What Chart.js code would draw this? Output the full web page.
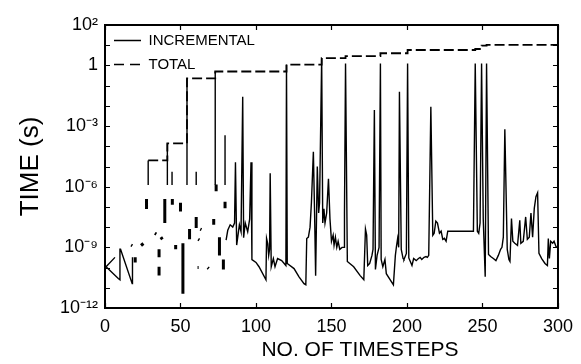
<!DOCTYPE html>
<html>
<head>
<meta charset="utf-8">
<title>Time per timestep</title>
<script src="https://cdn.jsdelivr.net/npm/chart.js@4.4.0/dist/chart.umd.min.js"></script>
<style>
  html, body { margin: 0; padding: 0; background: #fff; }
  #chart { display: block; }
</style>
</head>
<body>
<canvas id="chart" width="581" height="364"></canvas>
<script>
// incremental time per step (null = break in the trace)
const incX = [
  6.6, 0.7, 8.8, 9.9, 9.9, 10.3, 18, 18.2, 18.2,
  28.6, 28.6, 28.6, 41.3, 41.3, 41.3, 44.4, 44.4, 44.4, 54.3, 54.3, 54.3,
  60.4, 60.4, 60.4, 73, 73, 73, 79.5, 79.5, 79.5,
  80.2, 81.3, 82.9, 84.6, 85.8, 86.4, 87.2, 89, 90.1, 91.2, 91.8, 92.9, 94.5, 95.8, 96.7, 97.3,
  100, 102, 106.6, 107, 107.8, 108.4, 109, 109.4, 110.1, 111.5, 112.6, 114.3, 117, 119.8,
  120.2, 120.7, 125.2, 128.5, 131.8, 133, 133.6, 134.7, 135.8, 136.7, 138, 138.8, 139.5,
  140.6, 141.5, 142.1, 143.5, 144.2, 145, 145.7, 146.8, 148, 149, 150, 151.1, 151.7, 152.6,
  153.5, 154.4, 155.5, 157, 158.3, 158.6, 159.3, 160.5, 164.7, 169, 171.4, 172.5, 173.3,
  174, 175.3, 176.8, 177.5, 178.4, 179.1, 180.2, 181.5, 182.4, 182.9, 184, 185.4, 186.3,
  191, 192.3, 193, 193.8, 194.5, 195, 196.2, 197.4, 198, 199.6, 200.4, 201.2, 202.2, 203.3,
  204.4, 206.1, 207.6, 208.7, 209.8, 211.3, 212.6, 213.5, 214.4, 215.8, 217.1, 218, 219.1,
  220.2, 221.5, 222.6, 223.7, 224.8, 225.9, 227, 244, 245.2, 246.6, 247.5, 248.4, 249.4,
  250.5, 251.8, 252.7, 254, 255.4, 257.2, 258.9, 260.5, 262, 262.9, 263.8, 264.8, 266.4,
  267.5, 268.2, 269.2, 270.1, 271.4, 273.2, 274.7, 275.4, 277, 278.6, 279.7, 281, 282.1,
  283.2, 284.3, 285.4, 286.5, 287.4, 289.2, 291.4, 293, 293.6, 294.3, 295.2, 296.5, 297.4,
  298.7, 300
];
const incY = [
  3.2e-10, 1.1e-10, 2.9e-11, 2.5e-11, 8e-10, 8e-10, 1.6e-11, 3.2e-10, null,
  1.2e-6, 2e-5, null, 1.2e-6, 1.4e-4, null, 1.2e-6, 5.5e-6, null, 1.2e-6, 0.23, null,
  1.2e-6, 5.5e-6, null, 1.2e-6, 0.5, null, 1.2e-6, 3.5e-4, null,
  2.3e-9, 7e-9, 1.3e-8, 1e-8, 1.6e-8, 1.6e-5, 1.3e-9, 1.3e-8, 6e-9, 0.028, 3e-9, 1.6e-8, 6e-9, 2.5e-8, 1.6e-5, 2.5e-10,
  1.8e-10, 1.1e-10, 2.5e-11, 2.75e-9, 1.5e-9, 4e-10, 8e-10, 4.6e-6, 1.1e-10, 2.8e-10, 1.1e-10, 2.8e-10, 2.2e-10, 1.26e-10,
  1.1, 1.6e-10, 8.9e-11, 3.5e-11, 1.6e-11, 1.4e-11, 2.75e-9, 3.2e-9, 1e-8, 1.6e-7, 5.4e-5, 5e-8, 4e-11,
  1e-5, 5e-8, 1.6e-7, 2.3, 1.6e-8, 8e-8, 1.6e-8, 5e-8, 2.5e-6, 2.5e-8, 2e-9, 4e-9, 1.26e-9, 3.2e-9,
  1e-9, 2e-9, 8e-10, 1e-9, 1e-9, 5e-8, 1.26, 2e-10, 1.1e-10, 4e-11, 2.5e-11, 8e-9, 4e-9,
  1.26e-10, 1.6e-10, 4e-10, 8e-10, 6.3e-3, 8e-11, 4e-10, 1e-9, 1.26, 2.5e-10, 1.1e-10, 2.5e-10, 5e-11,
  1.4e-11, 4e-10, 1.07e-9, 2.75e-9, 1e-9, 0.05, 8e-10, 2.8e-10, 2.5e-10, 5e-10, 1.26, 3e-10, 2e-10, 1.26e-10,
  2.8e-10, 2.2e-10, 2.8e-10, 3.2e-10, 2.5e-10, 3.2e-10, 3.5e-10, 3.2e-10, 4e-10, 9e-3, 4e-9, 5e-9, 2e-8,
  1.6e-8, 5e-9, 6.3e-9, 2.5e-9, 2.8e-9, 2e-9, 6.3e-9, 6.3e-9, 1.26, 6.3e-9, 5e-9, 1.6e-8, 1.26,
  2.5e-8, 3.5e-11, 1.26, 4.5e-10, 3.5e-10, 2.8e-10, 2.2e-10, 4e-10, 8e-10, 1e-9, 3.2e-9, 6.9e-4, 8e-10,
  2.5e-10, 2e-10, 2.7e-8, 2e-9, 1.6e-9, 1.26e-9, 2.2e-8, 1.6e-9, 2e-9, 3.2e-8, 2.5e-9, 3.2e-9, 5e-8,
  3.2e-9, 8.5e-8, 3.2e-7, 5e-7, 5e-10, 2.8e-10, 1.6e-10, 1.26e-10, 2.75e-9, 2.8e-10, 2e-9, 1.6e-9, 2e-9,
  1.07e-9, 1e-9
];

// isolated bits of the incremental curve between steps 17 and 80
const markX = [
  17.3, 18.1, 18.1, 20, 20, 20, 24, 25.3, 25.3, 27.5, 27.5, 27.5, 33, 34, 34,
  35.8, 35.8, 35.8, 35.8, 35.8, 35.8, 37, 38, 38, 39.6, 39.6, 39.6, 44.6, 44.6, 44.6,
  46.8, 46.8, 46.8, 50, 50, 50, 51.6, 51.6, 51.6, 56, 56, 56, 60.4, 60.4, 60.4,
  61.7, 62.5, 62.5, 63.1, 63.9, 63.9, 61.3, 62, 62, 68, 68.7, 68.7, 72, 72, 72,
  73.6, 73.6, 73.6, 75.8, 75.8, 75.8, 78.4, 78.4, 78.4, 79.5, 79.5
];
const markY = [
  1.3e-9, 1.2e-9, null, 3.2e-10, 1.8e-10, null, 1.6e-9, 1.2e-9, null, 2.5e-7, 8e-8, null, 5e-9, 4.5e-9, null,
  8e-10, 3.2e-10, null, 1.1e-10, 4e-11, null, 3.2e-9, 2.5e-9, null, 2.5e-7, 1.6e-8, null, 2.5e-7, 1.3e-7, null,
  1.3e-9, 8e-10, null, 1.6e-7, 6e-8, null, 1.6e-9, 5e-12, null, 8e-9, 2.5e-9, null, 3.2e-8, 9e-9, null,
  2.5e-9, 2.3e-9, null, 8e-9, 7.5e-9, null, 1e-10, 1e-10, null, 1e-10, 9e-11, null, 2.5e-8, 1.3e-8, null,
  1.3e-6, 6e-7, null, 3.2e-9, 4e-10, null, 2.5e-10, 8e-11, null, 1.8e-7, 8.7e-8
];

// cumulative time (step curve)
const totalX = [28.6, 41.3, 54.3, 73, 120.2, 143.5, 159.3, 182.4, 200.4, 245.2, 249.4, 252.7, 300];
const totalY = [2e-5, 1.4e-4, 0.23, 0.5, 1.1, 2.3, 2.9, 4.0, 5.8, 6.5, 9.5, 10.5, 10.5];

const yDecades = [-12, -11, -10, -9, -8, -7, -6, -5, -4, -3, -2, -1, 0, 1, 2];
const yLabelExp = [2, 0, -3, -6, -9, -12];
const yLabelText = ['10²', '1', '10⁻³', '10⁻⁶', '10⁻⁹', '10⁻¹²'];

const FONT = '"Liberation Sans", Arial, Helvetica, sans-serif';
const xTitle = 'NO. OF TIMESTEPS';

const pts = (xs, ys) => xs.map((x, i) => ({ x: x, y: ys[i] }));

// box frame, inward ticks and the x-axis title
const framePlugin = {
    id: 'frame',
    afterDraw(chart) {
        const { ctx, chartArea: a, scales } = chart;
        ctx.save();
        ctx.strokeStyle = '#000';
        ctx.lineWidth = 2;
        ctx.strokeRect(a.left, a.top, a.right - a.left, a.bottom - a.top);
        ctx.lineWidth = 1.2;
        ctx.beginPath();
        scales.y.ticks.forEach(t => {
            const py = Math.round(scales.y.getPixelForValue(t.value)) + 0.5;
            ctx.moveTo(a.left, py); ctx.lineTo(a.left + 5, py);
            ctx.moveTo(a.right, py); ctx.lineTo(a.right - 5, py);
        });
        scales.x.ticks.forEach(t => {
            const px = Math.round(scales.x.getPixelForValue(t.value)) + 0.5;
            ctx.moveTo(px, a.bottom); ctx.lineTo(px, a.bottom - 5);
            ctx.moveTo(px, a.top); ctx.lineTo(px, a.top + 5);
        });
        ctx.stroke();
        ctx.fillStyle = '#000';
        ctx.font = '21px ' + FONT;
        ctx.textAlign = 'center';
        ctx.textBaseline = 'middle';
        ctx.fillText(xTitle, 360, 350);
        ctx.restore();
    }
};

document.addEventListener('DOMContentLoaded', function() {
    const ctx = document.getElementById('chart').getContext('2d');
    const defaultLabels = Chart.defaults.plugins.legend.labels.generateLabels;
    new Chart(ctx, {
        type: 'line',
        data: {
            datasets: [{
                label: 'INCREMENTAL',
                data: pts(incX, incY),
                borderColor: '#000',
                backgroundColor: '#000',
                borderWidth: 1.4,
                pointRadius: 0,
                spanGaps: false,
                fill: false
            }, {
                label: 'TOTAL',
                data: pts(totalX, totalY),
                borderColor: '#000',
                backgroundColor: '#000',
                borderWidth: 1.8,
                borderDash: [10, 4],
                stepped: 'before',
                pointRadius: 0,
                fill: false
            }, {
                label: 'marks',
                data: pts(markX, markY),
                borderColor: '#000',
                borderWidth: 3,
                pointRadius: 0,
                spanGaps: false,
                fill: false
            }]
        },
        options: {
            responsive: false,
            animation: false,
            devicePixelRatio: 1,
            layout: { padding: { top: 25, right: 19, left: 0, bottom: 0 } },
            plugins: {
                legend: {
                    position: 'chartArea',
                    align: 'start',
                    // empty title only pushes the entries down into the plot box
                    title: {
                        display: true,
                        text: '',
                        font: { size: 20, lineHeight: 1 },
                        padding: { top: 4, bottom: 0 }
                    },
                    labels: {
                        usePointStyle: true,
                        pointStyle: 'line',
                        pointStyleWidth: 27,
                        padding: 9,
                        color: '#000',
                        font: { size: 15, family: FONT },
                        generateLabels: chart => defaultLabels(chart)
                            .filter(item => item.datasetIndex < 2)
                            .map(item => {
                                item.lineWidth = 1.5;
                                item.lineDash = item.datasetIndex === 1 ? [10, 6] : [];
                                return item;
                            })
                    }
                },
                tooltip: { enabled: false }
            },
            scales: {
                x: {
                    type: 'linear',
                    min: 0,
                    max: 300,
                    grid: { display: false, drawTicks: false },
                    border: { display: false },
                    ticks: {
                        stepSize: 50,
                        padding: 8,
                        color: '#000',
                        font: { size: 18, family: FONT }
                    },
                    afterFit: s => { s.height = 56; }
                },
                y: {
                    type: 'logarithmic',
                    min: 1e-12,
                    max: 100,
                    grid: { display: false, drawTicks: false },
                    border: { display: false },
                    afterBuildTicks: s => {
                        s.ticks = yDecades.map(e => ({ value: Math.pow(10, e) }));
                    },
                    ticks: {
                        autoSkip: false,
                        padding: 7,
                        color: '#000',
                        font: { size: 18, family: FONT },
                        callback: function(v) {
                            const i = yLabelExp.indexOf(Math.round(Math.log10(v)));
                            return i >= 0 ? yLabelText[i] : '';
                        }
                    },
                    title: {
                        display: true,
                        text: 'TIME (s)',
                        color: '#000',
                        font: { size: 26, family: FONT },
                        padding: { top: 15, bottom: 0 }
                    },
                    afterFit: s => { s.width = 105; }
                }
            }
        },
        plugins: [framePlugin]
    });
});
</script>
</body>
</html>
